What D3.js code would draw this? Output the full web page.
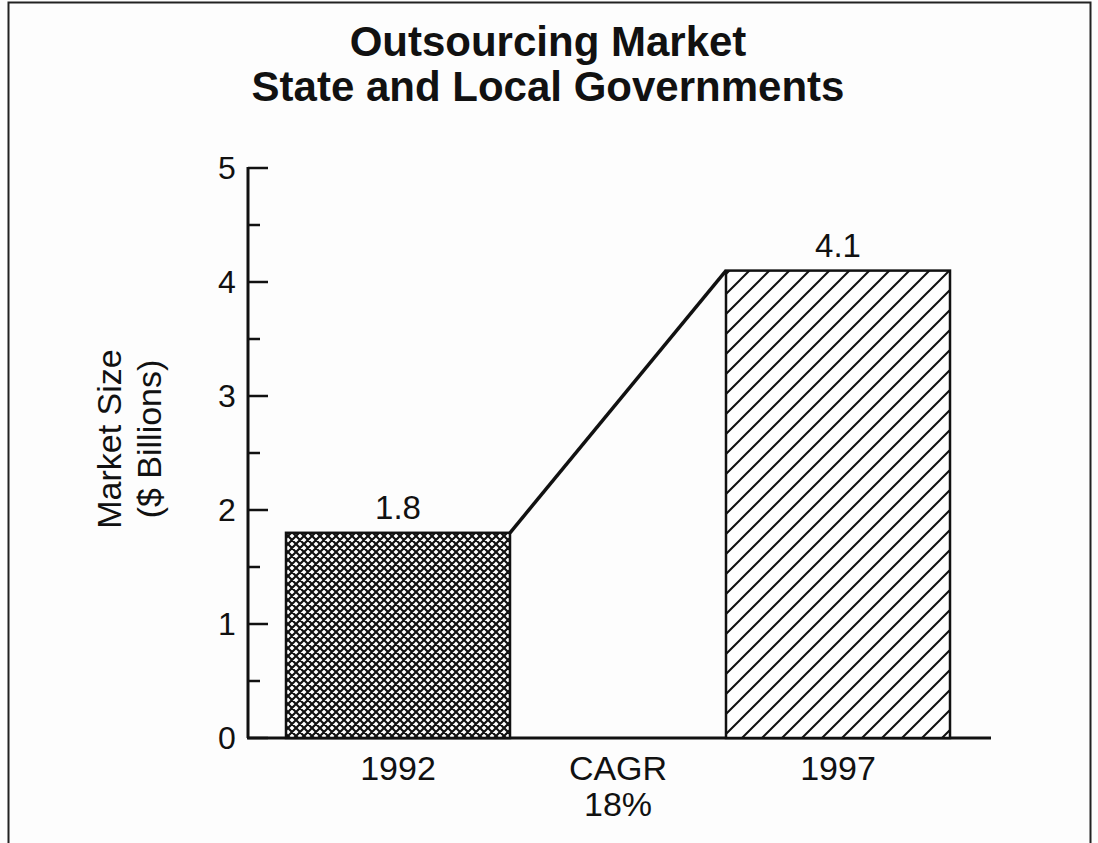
<!DOCTYPE html>
<html><head><meta charset="utf-8">
<script src="https://cdn.jsdelivr.net/npm/d3@7"></script>
<style>body{margin:0;background:#fff;} text{font-family:"Liberation Sans",Arial,sans-serif;fill:#111;}</style>
</head><body>
<svg id="c" width="1098" height="843"></svg>
<script>
const categories = ["1992", "1997"];
const values = [1.8, 4.1];
const valueLabels = ["1.8", "4.1"];
const yTicks = [0, 1, 2, 3, 4, 5];
const titleLines = ["Outsourcing Market", "State and Local Governments"];
const yLabelLines = ["Market Size", "($ Billions)"];
const cagrLines = ["CAGR", "18%"];

const svg = d3.select("#c");
svg.append("rect").attr("width",1098).attr("height",843).attr("fill","#fdfdfd");
svg.append("rect").attr("x",8.5).attr("y",2.5).attr("width",1082).attr("height",850)
  .attr("fill","none").attr("stroke","#222").attr("stroke-width",2);

const defs = svg.append("defs");
const cross = defs.append("pattern").attr("id","cross").attr("patternUnits","userSpaceOnUse")
  .attr("width",8).attr("height",8);
cross.append("rect").attr("width",8).attr("height",8).attr("fill","#fff");
cross.append("path").attr("d","M0,0L8,8M8,0L0,8M-2,6L2,10M6,-2L10,2M-2,2L2,-2M6,10L10,6")
  .attr("stroke","#111").attr("stroke-width",2.2);
const diag = defs.append("pattern").attr("id","diag").attr("patternUnits","userSpaceOnUse")
  .attr("width",20).attr("height",20);
diag.append("rect").attr("width",20).attr("height",20).attr("fill","#fff");
diag.append("path").attr("d","M0,20L20,0M-5,5L5,-5M15,25L25,15")
  .attr("stroke","#111").attr("stroke-width",2);

const y = d3.scaleLinear().domain([0,5]).range([738,168]);
const bw = 224;
const bx = d3.scalePoint().domain(categories).range([286+bw/2, 950-bw/2]);

// title
svg.append("g").selectAll("text").data(titleLines).join("text")
  .attr("x",548).attr("y",(d,i)=>56+i*45).attr("text-anchor","middle")
  .attr("font-size",42).attr("font-weight","bold").text(d=>d);

// y axis
const ag = svg.append("g");
ag.append("line").attr("x1",248).attr("x2",248).attr("y1",y(5)-1).attr("y2",y(0)).attr("stroke","#111").attr("stroke-width",3);
ag.selectAll("line.t").data(d3.range(0,5.01,0.5)).join("line").attr("class","t")
  .attr("x1",248).attr("x2",d=>Number.isInteger(d)?268:260)
  .attr("y1",d=>y(d)).attr("y2",d=>y(d)).attr("stroke","#111").attr("stroke-width",2.5);
ag.selectAll("text").data(yTicks).join("text")
  .attr("x",227).attr("y",d=>y(d)+11).attr("text-anchor","middle").attr("font-size",32).text(d=>d);
// x axis line
svg.append("line").attr("x1",247).attr("x2",991).attr("y1",y(0)).attr("y2",y(0))
  .attr("stroke","#111").attr("stroke-width",3);

// y label
svg.append("g").selectAll("text").data(yLabelLines).join("text")
  .attr("transform",(d,i)=>`translate(${121+i*40},439) rotate(-90)`)
  .attr("text-anchor","middle").attr("font-size",34).text(d=>d);

// bars
const fills = ["url(#cross)","url(#diag)"];
svg.append("g").selectAll("rect").data(values).join("rect")
  .attr("x",(d,i)=>bx(categories[i])-bw/2).attr("width",bw)
  .attr("y",d=>y(d)).attr("height",d=>y(0)-y(d))
  .attr("fill",(d,i)=>fills[i]).attr("stroke","#111").attr("stroke-width",2.5);

// connector line
svg.append("line")
  .attr("x1",bx(categories[0])+bw/2).attr("y1",y(values[0]))
  .attr("x2",bx(categories[1])-bw/2).attr("y2",y(values[1]))
  .attr("stroke","#111").attr("stroke-width",3.5);

// value labels
svg.append("g").selectAll("text").data(values).join("text")
  .attr("x",(d,i)=>bx(categories[i])).attr("y",d=>y(d)-14)
  .attr("text-anchor","middle").attr("font-size",33).text((d,i)=>valueLabels[i]);

// category labels
svg.append("g").selectAll("text").data(categories).join("text")
  .attr("x",d=>bx(d)).attr("y",780).attr("text-anchor","middle").attr("font-size",34).text(d=>d);
svg.append("g").selectAll("text").data(cagrLines).join("text")
  .attr("x",(bx(categories[0])+bx(categories[1]))/2).attr("y",(d,i)=>780+i*36)
  .attr("text-anchor","middle").attr("font-size",34).text(d=>d);
</script>
</body></html>
